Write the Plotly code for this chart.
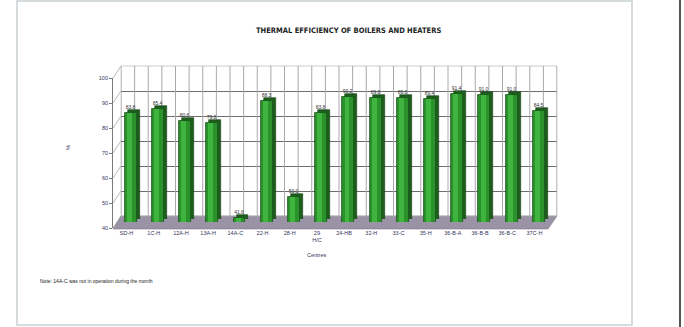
import plotly.graph_objects as go

# ---- data -------------------------------------------------------------
units = ["SD-H", "1C-H", "12A-H", "13A-H", "14A-C", "22-H", "28-H", "29<br>H/C",
         "24-HB", "32-H", "33-C", "35-H", "36-B-A", "36-B-B", "36-B-C", "37C-H"]
efficiency = [83.8, 85.4, 80.6, 79.8, 41.6, 88.3, 50.0, 83.8,
              90.2, 89.8, 89.8, 89.4, 91.4, 91.0, 91.0, 84.5]
y_ticks = [40, 50, 60, 70, 80, 90, 100]

W, H = 684, 327
Y_MIN, Y_MAX = 40, 100


def fx(p):
    return p / W


def fy(p):
    return 1 - p / H


# pixel geometry of the pseudo-3D box
BACK_X = (121, 557)
BACK_Y = (216, 66)      # (value 40, value 100)
FRONT_X = (113, 548)
FRONT_Y = (228, 78)
MID_X = (117, 552.5)
MID_Y = (222, 72)
SIDE = 3                # extrusion of the bar side faces

ink = "#34345a"
n = len(units)
idx = list(range(n))
labels_txt = [f"{v:.1f}" for v in efficiency]
wall_grid = [i * 0.5 - 0.5 for i in range(2 * n + 1)]

fig = go.Figure()

# back-wall vertical grid, drawn as a single broken line trace
grid_x, grid_y = [], []
for g in wall_grid:
    grid_x += [g, g, None]
    grid_y += [Y_MIN, Y_MAX, None]
fig.add_trace(go.Scatter(
    x=grid_x, y=grid_y, mode="lines", line=dict(color="#a9a9a9", width=1),
    xaxis="x", yaxis="y", hoverinfo="skip", showlegend=False,
))
# invisible anchor so the front-axis subplot is rendered
fig.add_trace(go.Scatter(
    x=idx, y=efficiency, mode="markers", marker=dict(opacity=0),
    xaxis="x2", yaxis="y2", hoverinfo="skip", showlegend=False,
))

# side/depth face of the columns
fig.add_trace(go.Bar(
    x=idx, y=efficiency, width=0.44,
    marker=dict(color="#1d5e1d", line=dict(color="#123c12", width=0.6)),
    xaxis="x3", yaxis="y3", hoverinfo="skip", showlegend=False,
))
# front face of the columns with value labels
fig.add_trace(go.Bar(
    x=idx, y=efficiency, width=0.44,
    marker=dict(color="#2b922b", line=dict(color="#1a501a", width=0.8)),
    text=labels_txt, textposition="outside", cliponaxis=False,
    textfont=dict(size=5, color="#333333", family="Liberation Sans"),
    xaxis="x4", yaxis="y4", showlegend=False,
))
# light sheen down the front face
fig.add_trace(go.Bar(
    x=idx, y=efficiency, width=0.18, offset=-0.14,
    marker=dict(color="#3fb53f", line=dict(width=0)),
    xaxis="x4", yaxis="y4", hoverinfo="skip", showlegend=False,
))

hidden = dict(visible=False, showgrid=False, zeroline=False, fixedrange=True)
layout = dict(
    width=W, height=H,
    margin=dict(l=0, r=0, t=0, b=0),
    paper_bgcolor="white", plot_bgcolor="rgba(0,0,0,0)",
    bargap=0, barmode="overlay",
    font=dict(family="Liberation Sans", color=ink),
    # back wall grid
    xaxis=dict(domain=[fx(BACK_X[0]), fx(BACK_X[1])], range=[-0.5, n - 0.5],
               showgrid=False, showticklabels=False, ticks="", zeroline=False,
               anchor="y", showline=False, fixedrange=True),
    yaxis=dict(domain=[fy(BACK_Y[0]), fy(BACK_Y[1])], range=[Y_MIN, Y_MAX],
               tickvals=y_ticks, showgrid=True, gridcolor="#6e6e6e", gridwidth=0.8,
               showticklabels=False, ticks="", zeroline=False, anchor="x",
               fixedrange=True),
    # front axes carrying the labels
    xaxis2=dict(domain=[fx(FRONT_X[0]), fx(FRONT_X[1])], range=[-0.5, n - 0.5],
                tickvals=idx, ticktext=units, tickangle=0,
                tickfont=dict(size=5.5, color=ink), showgrid=False, zeroline=False,
                ticks="", anchor="y2", automargin=False, fixedrange=True),
    yaxis2=dict(domain=[fy(FRONT_Y[0]), fy(FRONT_Y[1])], range=[Y_MIN, Y_MAX],
                tickvals=y_ticks, tickfont=dict(size=5.5, color=ink),
                showgrid=False, zeroline=False, showline=True, linecolor="#7a7a7a",
                linewidth=0.8, ticks="outside", ticklen=3, tickcolor="#7a7a7a",
                anchor="x2", automargin=False, fixedrange=True),
    xaxis3=dict(domain=[fx(MID_X[0] + SIDE), fx(MID_X[1] + SIDE)], range=[-0.5, n - 0.5],
                anchor="y3", **hidden),
    yaxis3=dict(domain=[fy(MID_Y[0] - SIDE), fy(MID_Y[1] - SIDE)], range=[Y_MIN, Y_MAX],
                anchor="x3", **hidden),
    xaxis4=dict(domain=[fx(MID_X[0]), fx(MID_X[1])], range=[-0.5, n - 0.5],
                anchor="y4", **hidden),
    yaxis4=dict(domain=[fy(MID_Y[0]), fy(MID_Y[1])], range=[Y_MIN, Y_MAX],
                anchor="x4", **hidden),
)
fig.update_layout(**layout)

shapes = []
# floor of the box
shapes.append(dict(
    type="path", xref="paper", yref="paper", layer="below",
    path=(f"M {fx(FRONT_X[0])} {fy(FRONT_Y[0] + 1)} L {fx(FRONT_X[1])} {fy(FRONT_Y[0] + 1)} "
          f"L {fx(BACK_X[1])} {fy(BACK_Y[0])} L {fx(BACK_X[0])} {fy(BACK_Y[0])} Z"),
    fillcolor="#9a93a6", line=dict(color="#7d7789", width=0.6),
))
# left side wall: connect front ticks to back gridlines
for v in y_ticks:
    t = (v - Y_MIN) / (Y_MAX - Y_MIN)
    yf = FRONT_Y[0] + t * (FRONT_Y[1] - FRONT_Y[0])
    yb = BACK_Y[0] + t * (BACK_Y[1] - BACK_Y[0])
    shapes.append(dict(type="line", xref="paper", yref="paper", layer="below",
                       x0=fx(FRONT_X[0]), y0=fy(yf), x1=fx(BACK_X[0]), y1=fy(yb),
                       line=dict(color="#9a9a9a", width=0.7)))
# back wall outline
shapes.append(dict(type="rect", xref="paper", yref="paper", layer="below",
                   x0=fx(BACK_X[0]), y0=fy(BACK_Y[0]), x1=fx(BACK_X[1]), y1=fy(BACK_Y[1]),
                   line=dict(color="#b9b9b9", width=0.7)))
# chart frame and page edge
shapes.append(dict(type="rect", xref="paper", yref="paper", layer="below",
                   x0=fx(17), y0=fy(325), x1=fx(632), y1=fy(1),
                   line=dict(color="#c9cfd4", width=1.5)))
shapes.append(dict(type="line", xref="paper", yref="paper", layer="below",
                   x0=fx(680), y0=0, x1=fx(680), y1=1,
                   line=dict(color="#555555", width=2)))
fig.update_layout(shapes=shapes)

fig.add_annotation(text="<b>THERMAL EFFICIENCY OF BOILERS AND HEATERS</b>",
                   xref="paper", yref="paper", x=fx(349), y=fy(24), showarrow=False,
                   font=dict(size=7.5, color="#222222",
                             family="Liberation Sans Narrow, DejaVu Sans Condensed"))
fig.add_annotation(text="%", xref="paper", yref="paper", x=fx(63), y=fy(147),
                   showarrow=False, textangle=-90, font=dict(size=6, color=ink))
fig.add_annotation(text="Centres", xref="paper", yref="paper", x=fx(317), y=fy(260),
                   showarrow=False, font=dict(size=5.5, color=ink))
fig.add_annotation(text="Note: 14A-C was not in operation during the month",
                   xref="paper", yref="paper", x=fx(38), y=fy(286), xanchor="left",
                   showarrow=False, font=dict(size=5, color="#222222"))

fig.write_html("out.html")
